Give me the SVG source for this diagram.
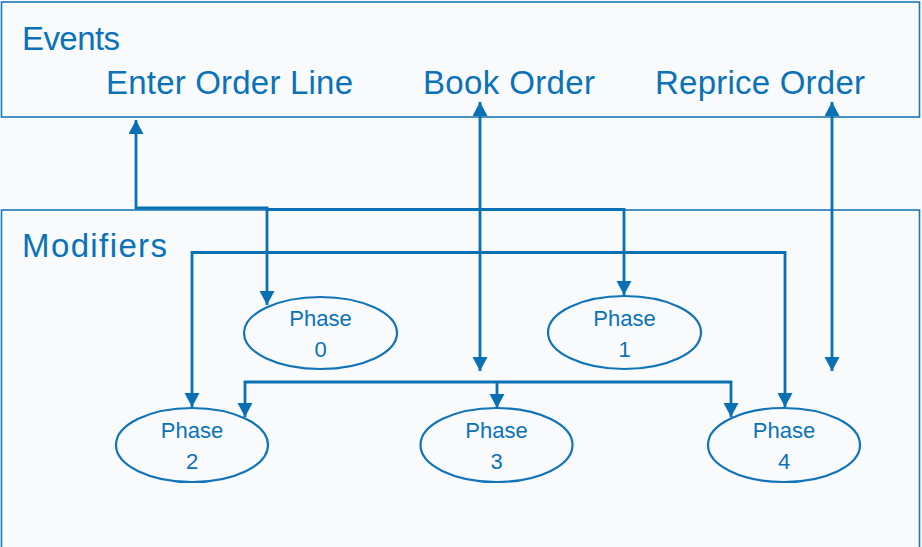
<svg xmlns="http://www.w3.org/2000/svg" width="922" height="547" viewBox="0 0 922 547">
<style>
.bg{fill:#f9fafb}
.box{fill:none;stroke:#1a78bd;stroke-width:1.6}
.ell{fill:none;stroke:#1274b8;stroke-width:2.2}
.con{fill:none;stroke:#0a70b4;stroke-width:2.8;marker-start:url(#ah);marker-end:url(#ah)}
.one{fill:none;stroke:#0a70b4;stroke-width:2.8;marker-end:url(#ah)}
.big{font-family:"Liberation Sans",Arial,sans-serif;font-size:33px;fill:#0a72b8}
.ph{font-family:"Liberation Sans",Arial,sans-serif;font-size:22px;fill:#0a72b8;text-anchor:middle}
</style>
<defs>
<marker id="ah" markerUnits="userSpaceOnUse" markerWidth="16" markerHeight="16" refX="14" refY="7.5" orient="auto-start-reverse">
<path d="M0,0 L14,7.5 L0,15 z" fill="#0a70b4"/>
</marker>
</defs>
<rect class="bg" x="0" y="0" width="922" height="547"/>
<g id="events">
<rect class="box" x="1.5" y="2" width="918" height="115"/>
<text class="big" x="22" y="50" textLength="98">Events</text>
<text class="big" x="106" y="94" textLength="247">Enter Order Line</text>
<text class="big" x="423" y="94" textLength="172">Book Order</text>
<text class="big" x="655" y="94" textLength="210">Reprice Order</text>
</g>
<g id="modifiers">
<rect class="box" x="1.5" y="210" width="918" height="340"/>
<text class="big" x="22" y="257" textLength="145">Modifiers</text>
</g>
<g id="phase0">
<ellipse class="ell" cx="320.5" cy="333" rx="76.5" ry="36"/>
<text class="ph" x="320.5" y="326">Phase</text>
<text class="ph" x="320.5" y="357">0</text>
</g>
<g id="phase1">
<ellipse class="ell" cx="624.5" cy="332.5" rx="76.5" ry="36.5"/>
<text class="ph" x="624.5" y="326">Phase</text>
<text class="ph" x="624.5" y="357">1</text>
</g>
<g id="phase2">
<ellipse class="ell" cx="192" cy="445" rx="76" ry="37"/>
<text class="ph" x="192" y="438">Phase</text>
<text class="ph" x="192" y="469">2</text>
</g>
<g id="phase3">
<ellipse class="ell" cx="496.5" cy="445" rx="76" ry="37"/>
<text class="ph" x="496.5" y="438">Phase</text>
<text class="ph" x="496.5" y="469">3</text>
</g>
<g id="phase4">
<ellipse class="ell" cx="784" cy="445" rx="76" ry="37"/>
<text class="ph" x="784" y="438">Phase</text>
<text class="ph" x="784" y="469">4</text>
</g>
<g id="connectors">
<path class="con" d="M136,120 V208 H267 V305"/>
<path class="one" d="M267,209.5 H624 V295"/>
<path class="con" d="M192,407 V252.5 H785 V407"/>
<path class="con" d="M480,102 V371"/>
<path class="con" d="M832,102 V371"/>
<path class="con" d="M245,417 V382 H731 V417"/>
<path class="one" d="M497,382 V408"/>
</g>
</svg>
